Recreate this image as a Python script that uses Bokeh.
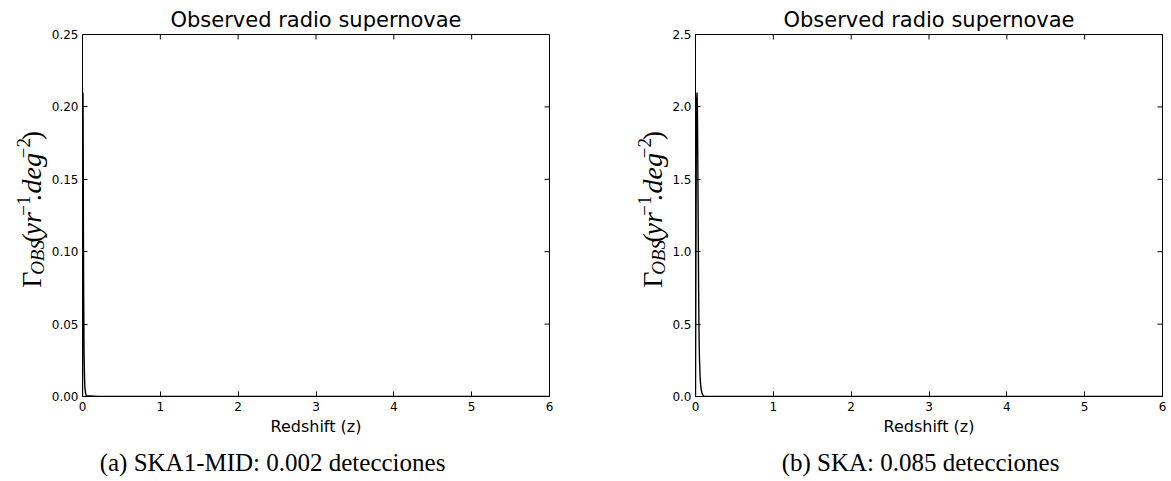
import math
from bokeh.plotting import figure
from bokeh.layouts import row, column
from bokeh.models import FixedTicker, Range1d
from bokeh.core.properties import value
from bokeh.embed import file_html
from bokeh.resources import INLINE

# ---------------- data ----------------
TITLE = "Observed radio supernovae"
XLABEL = "Redshift (z)"
x_ticks = [0, 1, 2, 3, 4, 5, 6]

left_yticks = [0.0, 0.05, 0.10, 0.15, 0.20, 0.25]
left_ytick_labels = ["0.00", "0.05", "0.10", "0.15", "0.20", "0.25"]
right_yticks = [0.0, 0.5, 1.0, 1.5, 2.0, 2.5]
right_ytick_labels = ["0.0", "0.5", "1.0", "1.5", "2.0", "2.5"]

# SKA1-MID observed rate vs redshift
left_z = [0.0, 0.002, 0.004, 0.006, 0.008, 0.010, 0.012, 0.015, 0.020,
          0.025, 0.030, 0.040, 0.050, 0.2, 1.0, 2.0, 3.0, 4.0, 5.0, 6.0]
left_rate = [0.0, 0.12, 0.20, 0.21, 0.19, 0.15, 0.11, 0.07, 0.03,
             0.015, 0.007, 0.002, 0.0005, 0.0, 0.0, 0.0, 0.0, 0.0, 0.0, 0.0]

# SKA observed rate vs redshift
right_z = [0.0, 0.005, 0.010, 0.015, 0.020, 0.025, 0.030, 0.035, 0.040,
           0.045, 0.050, 0.060, 0.070, 0.080, 0.090, 0.100, 0.110, 0.120,
           0.2, 1.0, 2.0, 3.0, 4.0, 5.0, 6.0]
right_rate = [0.0, 0.9, 1.7, 2.05, 2.1, 1.95, 1.6, 1.15, 0.75,
              0.45, 0.28, 0.12, 0.06, 0.03, 0.015, 0.007, 0.003, 0.001,
              0.0, 0.0, 0.0, 0.0, 0.0, 0.0, 0.0]

captions = ["(a) SKA1-MID: 0.002 detecciones", "(b) SKA: 0.085 detecciones"]

# y-label pieces: (text, style, role)
ylabel_parts = [("Γ", "normal", "main"), ("OBS", "italic", "sub"),
                ("(", "normal", "main"), ("yr", "italic", "main"),
                ("−1", "normal", "sup"), (".deg", "italic", "main"),
                ("−2", "normal", "sup"), (")", "normal", "main")]
# centre of each piece along the label, in px above the plot frame bottom
ylabel_centres = [98, 125, 149, 166, 188, 223, 258, 273]

SERIF = "Liberation Serif"
SANS = "DejaVu Sans"
PLOT_H = 440
CAP_H = 41
FRAME_TOP = 34
FRAME_BOTTOM = 44


def style_axis(ax, ticks, labels, standoff):
    ax.ticker = FixedTicker(ticks=ticks)
    ax.major_tick_in = 5
    ax.major_tick_out = 0
    ax.minor_tick_in = 0
    ax.minor_tick_out = 0
    ax.axis_line_color = "black"
    ax.axis_line_width = 1
    ax.major_tick_line_color = "black"
    ax.major_label_overrides = {t: l for t, l in zip(ticks, labels)}
    ax.major_label_text_font = SANS
    ax.major_label_text_font_size = "12px"
    ax.major_label_text_color = "black"
    ax.major_label_standoff = standoff


def text_fig(w, h):
    f = figure(width=w, height=h, x_range=Range1d(0, w), y_range=Range1d(0, h),
               x_axis_location=None, y_axis_location=None, title=None,
               output_backend="svg", toolbar_location=None, min_border=0)
    f.outline_line_color = None
    f.grid.visible = False
    f.background_fill_color = "white"
    f.border_fill_color = "white"
    return f


def plot_fig(z, rate, ymax, yticks, ylabels, width, bl, br, ystandoff):
    p = figure(width=width, height=PLOT_H, x_range=Range1d(0, x_ticks[-1]),
               y_range=Range1d(0, ymax), output_backend="svg",
               toolbar_location=None, min_border_left=bl,
               min_border_right=br, min_border_top=FRAME_TOP,
               min_border_bottom=FRAME_BOTTOM)
    p.title.text = TITLE
    p.title.align = "center"
    p.title.text_font = SANS
    p.title.text_font_size = "21px"
    p.title.text_font_style = "normal"
    p.title.text_color = "black"
    p.title.standoff = 6
    p.xgrid.visible = False
    p.ygrid.visible = False
    p.outline_line_color = "black"
    p.background_fill_color = "white"
    p.border_fill_color = "white"

    style_axis(p.xaxis[0], x_ticks, [str(t) for t in x_ticks], 5)
    p.xaxis[0].axis_label = XLABEL
    p.xaxis[0].axis_label_text_font = SANS
    p.xaxis[0].axis_label_text_font_size = "16px"
    p.xaxis[0].axis_label_text_font_style = "normal"
    p.xaxis[0].axis_label_text_color = "black"
    p.xaxis[0].axis_label_standoff = 3
    style_axis(p.yaxis[0], yticks, ylabels, ystandoff)

    # inward mirror ticks on the top and right edges (outer half is clipped)
    p.scatter(x=[x_ticks[-1]] * len(yticks), y=yticks, marker="dash",
              size=10, line_color="black", line_width=1)
    p.scatter(x=x_ticks, y=[ymax] * len(x_ticks), marker="dash", angle=math.pi / 2,
              size=10, line_color="black", line_width=1)

    p.line(z, rate, line_color="black", line_width=1.4)
    return p


def ylabel_fig(w, base_x):
    f = text_fig(w, PLOT_H)
    for (txt, fstyle, role), c in zip(ylabel_parts, ylabel_centres):
        if role == "main":
            size, px = 28, base_x
        elif role == "sub":
            size, px = 19, base_x + 2
        else:
            size, px = 19, base_x - 12
        # text rotated to read upwards; glyph tops point left
        f.text(x=[px - 0.34 * size], y=[FRAME_BOTTOM + c], text=[txt],
               angle=math.pi / 2, text_align="center", text_baseline="middle",
               text_font=value(SERIF), text_font_style=value(fstyle),
               text_font_size=value(f"{size}px"), text_color="black")
    return f


def caption_fig(w, cx, txt):
    f = text_fig(w, CAP_H)
    f.text(x=[cx], y=[19], text=[txt], text_align="center",
           text_baseline="alphabetic", text_font=value(SERIF),
           text_font_size=value("25px"), text_color="black")
    return f


p1 = plot_fig(left_z, left_rate, 0.25, left_yticks, left_ytick_labels,
              537, 31, 36, 4)
p2 = plot_fig(right_z, right_rate, 2.5, right_yticks, right_ytick_labels,
              502, 25, 9, 4)
yl1 = ylabel_fig(48, 41)
yl2 = ylabel_fig(84, 77)
c1 = caption_fig(585, 272, captions[0])
c2 = caption_fig(586, 335, captions[1])

layout = row(column(row(yl1, p1), c1), column(row(yl2, p2), c2))
open("out.html", "w").write(file_html(layout, INLINE))
